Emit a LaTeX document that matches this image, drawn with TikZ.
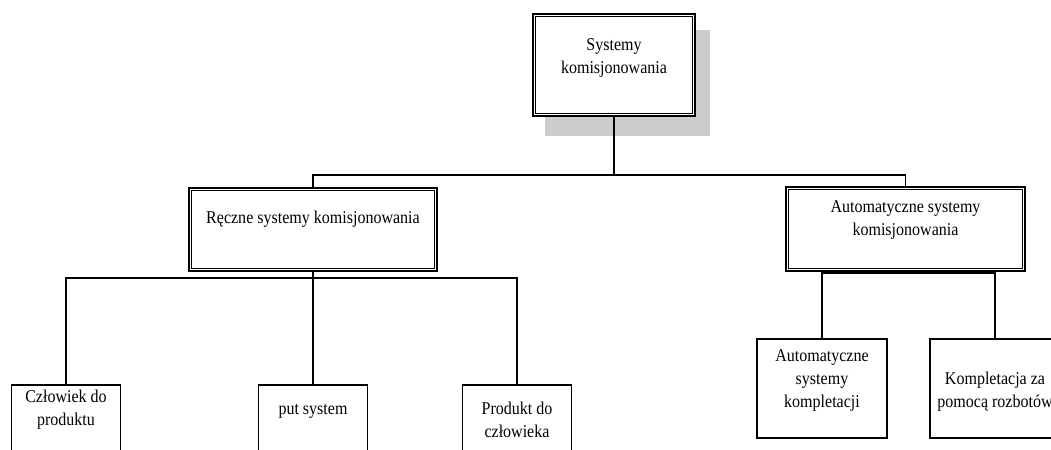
\documentclass[tikz,border=0pt]{standalone}
\usepackage{fontspec}
\setmainfont[FakeStretch=0.89]{Liberation Serif}
\begin{document}
\begin{tikzpicture}[x=0.75pt,y=-0.75pt,
  outerbox/.style={draw, fill=white, line width=1.1pt, inner sep=0pt},
  innerline/.style={draw, line width=0.55pt},
  leafbox/.style={draw, fill=white, line width=0.8pt, inner sep=0pt, minimum height=74.25pt},
  lbl/.style={inner sep=0pt, anchor=base, align=center, font=\fontsize{13.5pt}{17.25pt}\selectfont},
  conn/.style={line width=0.8pt}]
\clip (0,0) rectangle (1051,450);
\fill[white] (0,0) rectangle (1051,450);
% shadow
\fill[black!20] (545,30) rectangle (710,136);
% boxes
\node[outerbox, minimum width=121.5pt, minimum height=76.5pt] (top) at (614,65) {};
\node[outerbox, minimum width=186pt, minimum height=62.25pt] (ml) at (313,229.5) {};
\node[outerbox, minimum width=179.25pt, minimum height=63pt] (mr) at (905.5,229) {};
\foreach \n in {top,ml,mr}
  \draw[innerline] ([shift={(3,3)}]\n.north west) rectangle ([shift={(-3,-3)}]\n.south east);
\node[leafbox, minimum width=81.75pt] (c1) at (66,434.5) {};
\node[leafbox, minimum width=81.75pt] (c2) at (313,434.5) {};
\node[leafbox, minimum width=81.75pt] (c3) at (517,434.5) {};
\node[leafbox, minimum width=97.5pt] (d1) at (822,388.5) {};
\node[leafbox, minimum width=97.5pt] (d2) at (995,388.5) {};
% labels (base anchor = baseline of last line)
\node[lbl] (topt) at (614,73) {Systemy\\komisjonowania};
\node[lbl] (mlt) at (313,223) {Ręczne systemy komisjonowania};
\node[lbl] (mrt) at (905.5,235) {Automatyczne systemy\\komisjonowania};
\node[lbl] (c1t) at (66,425) {Człowiek do\\produktu};
\node[lbl] (c2t) at (313,414) {put system};
\node[lbl] (c3t) at (517,437) {Produkt do\\człowieka};
\node[lbl] (d1t) at (822,407) {Automatyczne\\systemy\\kompletacji};
\node[lbl] (d2t) at (995,407) {Kompletacja za\\pomocą rozbotów};
% connectors
\coordinate (bus1) at (614,175);
\coordinate (bus2) at (313,278);
\coordinate (bus3) at (905.5,273);
\draw[conn] (top.south) -- (bus1);
\draw[conn] (ml.north) |- (bus1) -| (mr.north);
\draw[conn] (ml.south) -- (c2.north);
\draw[conn] (c1.north) |- (bus2) -| (c3.north);
\draw[conn] (d1.north) |- (bus3) -| (d2.north);
\end{tikzpicture}
\end{document}
